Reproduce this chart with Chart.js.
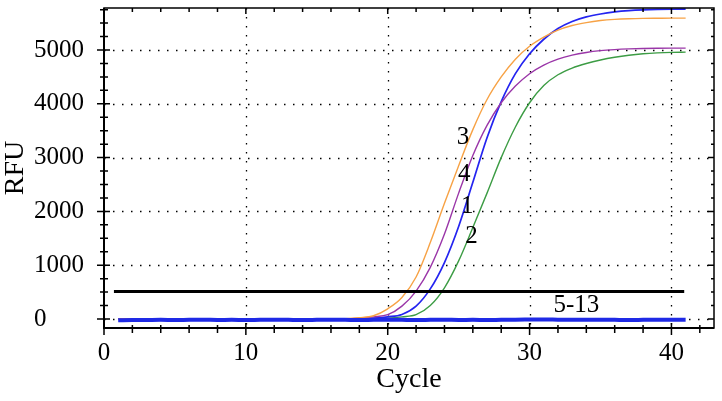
<!DOCTYPE html>
<html>
<head>
<meta charset="utf-8">
<script src="https://cdn.jsdelivr.net/npm/chart.js@4.4.0/dist/chart.umd.min.js"></script>
<style>
  html, body { margin: 0; padding: 0; background: #fff; }
  #wrap { width: 722px; height: 401px; }
</style>
</head>
<body>
<div id="wrap"><canvas id="chart"></canvas></div>
<script>
const cycles = [1, 2, 3, 4, 5, 6, 7, 8, 9, 10, 11, 12, 13, 14, 15, 16, 17, 18, 19, 20,
  21, 22, 23, 24, 25, 26, 27, 28, 29, 30, 31, 32, 33, 34, 35, 36, 37, 38, 39, 40, 41]

// sample 1 (blue)
const rfu1 = [0, -5, 0, 0, -5, 0, 0, 0, 5, 0, 0, 0, 0, 5, 0, 0, 0, 5, 15, 40,
  85, 240, 560, 1050, 1720, 2540, 3370, 4040, 4560, 4930, 5200, 5400, 5530, 5615, 5670, 5708, 5732, 5746, 5754, 5758, 5760]
// sample 2 (green)
const rfu2 = [0, 0, -5, 0, 0, 0, -5, 0, 0, 0, 5, 0, 0, 0, 0, 0, 0, 0, 5, 15,
  40, 80, 250, 580, 1080, 1700, 2340, 3000, 3570, 4020, 4340, 4540, 4665, 4750, 4815, 4865, 4903, 4930, 4947, 4957, 4960]
// sample 3 (orange)
const rfu3 = [-5, 0, 0, 0, -5, 0, 5, 0, 0, 5, 0, 0, 5, 5, 5, 5, 8, 25, 60, 190,
  400, 780, 1420, 2150, 2850, 3520, 4080, 4500, 4830, 5070, 5240, 5370, 5455, 5510, 5548, 5570, 5582, 5588, 5590, 5592, 5592]
// sample 4 (purple)
const rfu4 = [0, 0, 0, -5, 0, 0, 0, 5, 0, 0, 0, 0, 5, 0, 0, 5, 5, 15, 40, 80,
  240, 520, 960, 1580, 2340, 3040, 3600, 4020, 4330, 4560, 4720, 4830, 4905, 4955, 4988, 5008, 5021, 5029, 5033, 5035, 5036]
// samples 5-13 (negatives, blue)
const rfuNeg = [-25, -20, -18, -15, -20, -15, -12, -18, -15, -20, -15, -12, -15, -18, -15, -12, -15, -20, -15, -12,
  -15, -18, -15, -12, -18, -15, -20, -15, -12, -10, -8, -12, -15, -15, -12, -15, -18, -15, -12, -15, -15]

const thresholdCycles = [0.7, 40.9]
const thresholdRfu = [510, 510]

const xTicks = [0, 10, 20, 30, 40]
const yTicks = [0, 1000, 2000, 3000, 4000, 5000]

const tagText = ['3', '4', '1', '2', '5-13']
const tagCycle = [25.3, 25.4, 25.6, 25.9, 33.3]
const tagRfu = [3374, 2695, 2100, 1543, 260]

const serif = '"Liberation Serif", "DejaVu Serif", serif'

const series = (ys) => cycles.map((c, i) => ({ x: c, y: ys[i] }))

const line = (label, ys, color, width) => ({
  label: label,
  data: series(ys),
  borderColor: color,
  borderWidth: width,
  pointRadius: 0,
  cubicInterpolationMode: 'monotone',
  fill: false
})

const frame = {
  id: 'frame',
  beforeDatasetsDraw(chart) {
    const { ctx, chartArea: a, scales: { x, y } } = chart
    ctx.save()
    ctx.strokeStyle = '#000'
    ctx.lineWidth = 1.3
    ctx.setLineDash([1.5, 7.5])
    xTicks.forEach(v => {
      if (v === 0) return
      const px = Math.round(x.getPixelForValue(v)) + 0.5
      ctx.beginPath(); ctx.moveTo(px, a.top); ctx.lineTo(px, a.bottom); ctx.stroke()
    })
    yTicks.forEach(v => {
      const py = Math.round(y.getPixelForValue(v)) + 0.5
      ctx.beginPath(); ctx.moveTo(a.left, py); ctx.lineTo(a.right, py); ctx.stroke()
    })
    ctx.restore()
  },
  afterDatasetsDraw(chart) {
    const { ctx, chartArea: a, scales: { x, y } } = chart
    ctx.save()
    ctx.strokeStyle = '#000'
    ctx.setLineDash([])

    // box
    ctx.lineWidth = 1.5
    ctx.strokeRect(a.left, a.top, a.right - a.left, a.bottom - a.top)
    ctx.lineWidth = 2
    ctx.beginPath()
    ctx.moveTo(a.left, a.top); ctx.lineTo(a.left, a.bottom); ctx.lineTo(a.right, a.bottom)
    ctx.stroke()

    // tick marks
    ctx.lineWidth = 1.5
    for (let v = 0; v <= 42; v += 2) {
      const px = x.getPixelForValue(v)
      const major = v % 10 === 0
      ctx.beginPath()
      ctx.moveTo(px, a.bottom - (major ? 5 : 3)); ctx.lineTo(px, a.bottom + (major ? 7 : 5))
      ctx.moveTo(px, a.top); ctx.lineTo(px, a.top + (major ? 6 : 4))
      ctx.stroke()
    }
    for (let v = 0; v <= 5750; v += 250) {
      const py = y.getPixelForValue(v)
      const major = v % 1000 === 0
      ctx.beginPath()
      ctx.moveTo(a.left - (major ? 7 : 4), py); ctx.lineTo(a.left + (major ? 6 : 4), py)
      ctx.moveTo(a.right, py); ctx.lineTo(a.right - (major ? 6 : 3), py)
      ctx.stroke()
    }

    ctx.fillStyle = '#000'
    ctx.font = '25px ' + serif
    ctx.textBaseline = 'middle'

    // y tick labels, left aligned like the original
    ctx.textAlign = 'left'
    yTicks.forEach(v => {
      ctx.fillText(String(v), a.left - 70, y.getPixelForValue(v))
    })

    // curve tags
    ctx.textAlign = 'center'
    tagText.forEach((t, i) => {
      ctx.fillText(t, x.getPixelForValue(tagCycle[i]), y.getPixelForValue(tagRfu[i]))
    })
    ctx.restore()
  }
}

new Chart(document.getElementById('chart'), {
  type: 'line',
  data: {
    datasets: [
      {
        label: 'threshold',
        data: thresholdCycles.map((c, i) => ({ x: c, y: thresholdRfu[i] })),
        borderColor: '#000',
        borderWidth: 3,
        pointRadius: 0
      },
      line('5-13', rfuNeg, '#1f2ae6', 4),
      line('3', rfu3, '#f7a245', 1.4),
      line('4', rfu4, '#9a36a8', 1.4),
      line('1', rfu1, '#2424f0', 1.7),
      line('2', rfu2, '#3c9c44', 1.4)
    ]
  },
  options: {
    responsive: true,
    maintainAspectRatio: false,
    animation: false,
    layout: { padding: { top: 8, right: 8, left: 0, bottom: 0 } },
    plugins: { legend: { display: false }, tooltip: { enabled: false } },
    scales: {
      x: {
        type: 'linear',
        min: 0,
        max: 43,
        afterFit: (s) => { s.height = 73; s.paddingLeft = 0; s.paddingRight = 0 },
        afterBuildTicks: (s) => { s.ticks = xTicks.map(v => ({ value: v })) },
        grid: { display: false, drawTicks: false },
        border: { display: false },
        ticks: {
          color: '#000', padding: 10, font: { family: serif, size: 25 },
          callback: (v) => String(v)
        },
        title: {
          display: true,
          text: 'Cycle',
          color: '#000',
          font: { family: serif, size: 28, lineHeight: 1.15 },
          padding: { top: 0, bottom: 5 }
        }
      },
      y: {
        type: 'linear',
        min: -167,
        max: 5781,
        afterFit: (s) => { s.width = 104; s.paddingTop = 0; s.paddingBottom = 0 },
        afterBuildTicks: (s) => { s.ticks = yTicks.map(v => ({ value: v })) },
        grid: { display: false, drawTicks: false },
        border: { display: false },
        ticks: { display: false },
        title: {
          display: true,
          text: 'RFU',
          color: '#000',
          font: { family: serif, size: 28, lineHeight: 1.15 },
          padding: { top: 0, bottom: 0 }
        }
      }
    }
  },
  plugins: [frame]
})
</script>
</body>
</html>
